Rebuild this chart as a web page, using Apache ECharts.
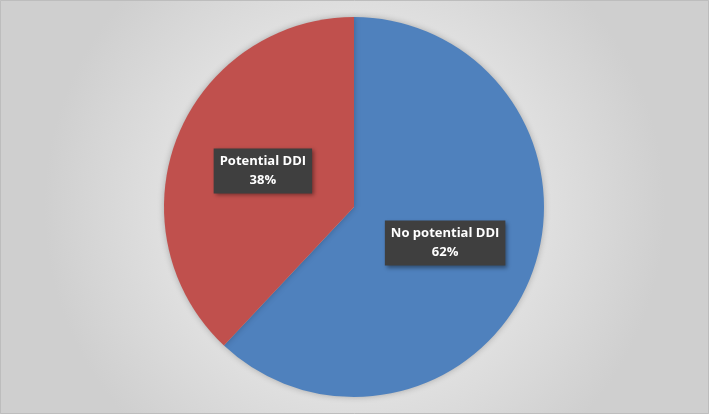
<!DOCTYPE html>
<html>
<head>
<meta charset="utf-8">
<script src="https://cdn.jsdelivr.net/npm/echarts@6/dist/echarts.min.js"></script>
<style>
  html, body { margin: 0; padding: 0; }
  #chart { width: 709px; height: 414px; }
</style>
</head>
<body>
<div id="chart"></div>
<script>
  const categories = ['No potential DDI', 'Potential DDI']
  const values = [62, 38]
  const colors = ['#4F81BD', '#C0504D']

  const chart = echarts.init(document.getElementById('chart'))
  chart.setOption({
    backgroundColor: {
      type: 'radial', x: 0.5, y: 0.5, r: 0.75,
      colorStops: [
        { offset: 0, color: '#fafafa' },
        { offset: 1, color: '#cfcfcf' }
      ]
    },
    graphic: [{
      type: 'rect',
      shape: { x: 0.5, y: 0.5, width: 708, height: 413 },
      style: { fill: 'none', stroke: '#bdbdbd', lineWidth: 1 },
      silent: true
    }],
    series: [{
      type: 'pie',
      center: [354, 207],
      radius: [0, 190],
      startAngle: 90,
      clockwise: true,
      itemStyle: {
        shadowBlur: 6,
        shadowColor: 'rgba(0,0,0,0.25)'
      },
      label: {
        position: 'inside',
        formatter: '{b}\n{d}%',
        color: '#ffffff',
        fontFamily: 'Open Sans',
        fontWeight: 'bold',
        fontSize: 13,
        lineHeight: 19,
        backgroundColor: '#3f3f3f',
        padding: [4, 6, 3, 6],
        shadowBlur: 4,
        shadowOffsetX: 2,
        shadowOffsetY: 2,
        shadowColor: 'rgba(0,0,0,0.4)'
      },
      labelLine: { show: false },
      emphasis: { disabled: true },
      data: categories.map((name, i) => ({
        name: name,
        value: values[i],
        itemStyle: { color: colors[i] }
      }))
    }]
  })
</script>
</body>
</html>
